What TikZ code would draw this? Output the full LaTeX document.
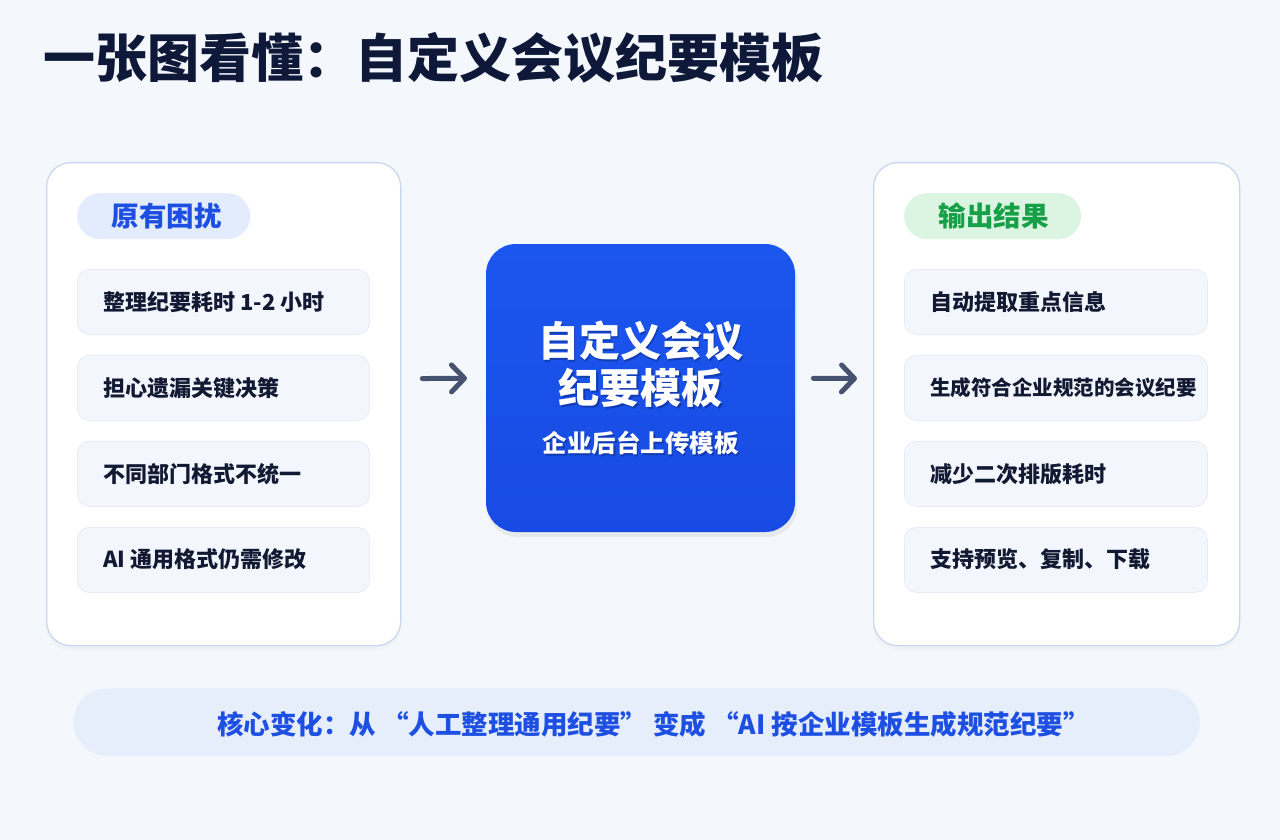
\documentclass[tikz,border=0pt]{standalone}
\usepackage{fontspec}
\setmainfont{Noto Sans CJK SC}
\usetikzlibrary{arrows.meta}
\definecolor{bgc}{HTML}{F4F7FC}
\definecolor{panelborder}{HTML}{C8D7F2}
\definecolor{itemfill}{HTML}{F3F6FC}
\definecolor{itemborder}{HTML}{E6ECF7}
\definecolor{titlec}{HTML}{0E1838}
\definecolor{itemtext}{HTML}{121A33}
\definecolor{bluetext}{HTML}{1E4FE3}
\definecolor{pillblue}{HTML}{E3ECFC}
\definecolor{pillgreen}{HTML}{DCF5E3}
\definecolor{greentext}{HTML}{17A048}
\definecolor{boxtop}{HTML}{1B56EF}
\definecolor{boxbot}{HTML}{184BE3}
\definecolor{arrowc}{HTML}{475270}
\definecolor{bannerfill}{HTML}{E6EEFC}
\definecolor{txtshadow}{HTML}{0B2A8A}
\tikzset{
  panel/.style={draw=panelborder, line width=1.3pt, fill=white, rounded corners=24pt, anchor=north west, inner sep=0pt},
  itembox/.style={draw=itemborder, line width=0.8pt, fill=itemfill, rounded corners=12pt, anchor=north west, minimum height=65pt, inner sep=0pt},
  itemlabel/.style={anchor=west, inner sep=0pt, text=itemtext, font=\bfseries\fontsize{22}{26}\selectfont},
  pill/.style={rounded corners=23pt, anchor=north west, minimum height=46pt, inner sep=0pt},
  pilllabel/.style={inner sep=0pt, font=\bfseries\fontsize{27.5}{32}\selectfont},
  flowarrow/.style={draw=arrowc, line width=5pt, line cap=round, -{Straight Barb[length=13pt,width=27pt,line width=5pt, round]}},
  centertext/.style={inner sep=0pt, text=white, font=\bfseries\fontsize{41}{47}\selectfont},
  centersub/.style={inner sep=0pt, text=white, font=\bfseries\fontsize{24.5}{28}\selectfont},
}
\begin{document}
\begin{tikzpicture}[x=1pt,y=-1pt]
\fill[bgc] (0,0) rectangle (1280,840);
\useasboundingbox (0,0) rectangle (1280,840);

% title
\node[anchor=west, inner sep=0pt, text=titlec, font=\bfseries\fontsize{52}{58}\selectfont] (title) at (43,58) {一张图看懂：自定义会议纪要模板};

% left panel
\fill[black!8, opacity=0.35, rounded corners=24pt] (46,166) rectangle (401,650);
\node[panel, minimum width=354pt, minimum height=483pt] (lp) at (46,162) {};
\node[pill, fill=pillblue, minimum width=173pt] (lpill) at (77,193) {};
\node[pilllabel, text=bluetext] (lpilltxt) at ([xshift=3pt]lpill.center) {原有困扰};

\node[itembox, minimum width=292pt] (l1) at (77,269) {};
\node[itemlabel] (l1t) at (103,302) {整理纪要耗时 1-2 小时};
\node[itembox, minimum width=292pt] (l2) at (77,355) {};
\node[itemlabel] (l2t) at (103,388) {担心遗漏关键决策};
\node[itembox, minimum width=292pt] (l3) at (77,441) {};
\node[itemlabel] (l3t) at (103,474) {不同部门格式不统一};
\node[itembox, minimum width=292pt] (l4) at (77,527) {};
\node[itemlabel] (l4t) at (103,559) {AI 通用格式仍需修改};

% right panel
\fill[black!8, opacity=0.35, rounded corners=24pt] (873,166) rectangle (1240,650);
\node[panel, minimum width=366pt, minimum height=483pt] (rp) at (873,162) {};
\node[pill, fill=pillgreen, minimum width=177pt] (rpill) at (904,193) {};
\node[pilllabel, text=greentext] (rpilltxt) at ([xshift=1pt]rpill.center) {输出结果};

\node[itembox, minimum width=303pt] (r1) at (904,269) {};
\node[itemlabel] (r1t) at (930,302) {自动提取重点信息};
\node[itembox, minimum width=303pt] (r2) at (904,355) {};
\node[itemlabel, font=\bfseries\fontsize{20.5}{24}\selectfont] (r2t) at (930,388) {生成符合企业规范的会议纪要};
\node[itembox, minimum width=303pt] (r3) at (904,441) {};
\node[itemlabel] (r3t) at (930,474) {减少二次排版耗时};
\node[itembox, minimum width=303pt] (r4) at (904,527) {};
\node[itemlabel] (r4t) at (930,559) {支持预览、复制、下载};

% center box
\fill[black!20, opacity=0.3, rounded corners=30pt] (487,249) rectangle (797,537);
\shade[top color=boxtop, bottom color=boxbot, rounded corners=30pt] (486,244) rectangle (795,532);
\node[inner sep=0pt, minimum width=309pt, minimum height=288pt, anchor=north west] (cb) at (486,244) {};
\node[centertext, text=txtshadow, opacity=0.55] at (642,343) {自定义会议};
\node[centertext, text=txtshadow, opacity=0.55] at (642,390) {纪要模板};
\node[centersub, text=txtshadow, opacity=0.55] at (642,445) {企业后台上传模板};
\node[centertext] (c1) at (640.5,341) {自定义会议};
\node[centertext] (c2) at (640.5,388) {纪要模板};
\node[centersub] (c3) at (640.5,443) {企业后台上传模板};

% arrows
\draw[flowarrow, shorten <=21pt, shorten >=19pt] ([yshift=25.5pt]lp.east) -- ([yshift=10pt]cb.west);
\draw[flowarrow, shorten <=18pt, shorten >=16pt] ([yshift=10pt]cb.east) -- ([yshift=25.5pt]rp.west);

% banner
\node[fill=bannerfill, draw=white!60!bannerfill, rounded corners=34pt, minimum width=1127pt, minimum height=68pt, anchor=north west, inner sep=0pt] (banner) at (73,688) {};
\node[inner sep=0pt, text=bluetext, font=\bfseries\fontsize{26.5}{30}\selectfont] (bannertxt) at (653.5,724) {核心变化：从 “人工整理通用纪要” 变成 “AI 按企业模板生成规范纪要”};
\end{tikzpicture}
\end{document}
